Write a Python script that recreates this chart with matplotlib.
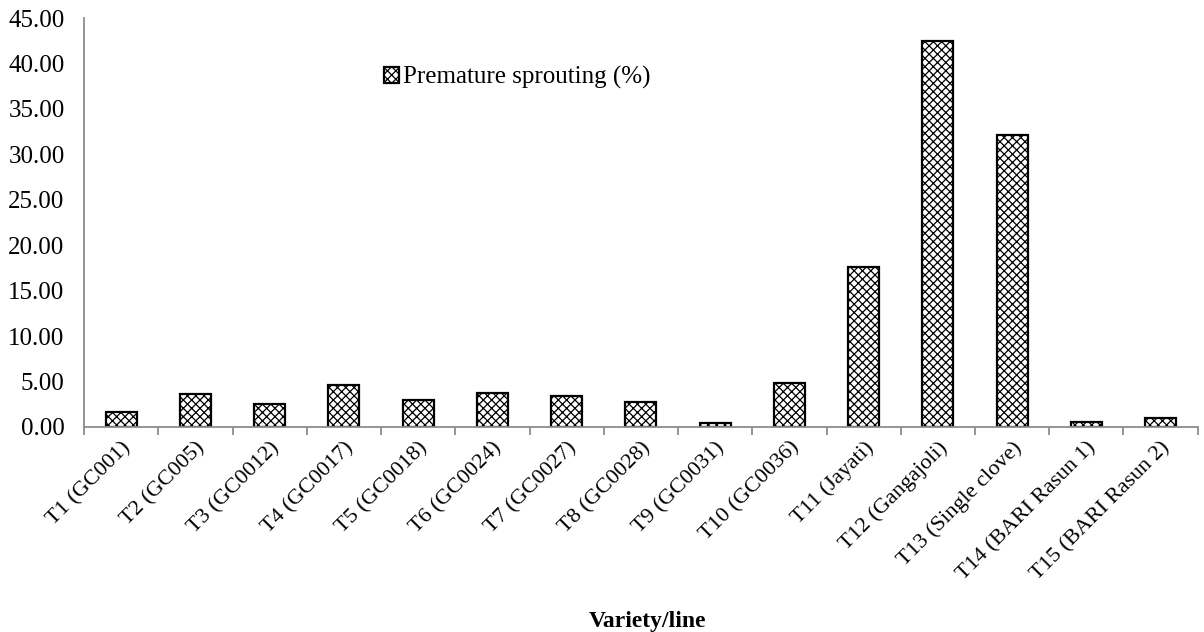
import matplotlib
matplotlib.use("Agg")
import matplotlib.pyplot as plt
import numpy as np

# data
varieties = [
    "T1 (GC001)", "T2 (GC005)", "T3 (GC0012)", "T4 (GC0017)", "T5 (GC0018)",
    "T6 (GC0024)", "T7 (GC0027)", "T8 (GC0028)", "T9 (GC0031)", "T10 (GC0036)",
    "T11 (Jayati)", "T12 (Gangajoli)", "T13 (Single clove)", "T14 (BARI Rasun 1)",
    "T15 (BARI Rasun 2)",
]
sprouting = [1.65, 3.63, 2.50, 4.66, 2.93, 3.78, 3.45, 2.71, 0.44, 4.87,
             17.63, 42.50, 32.10, 0.55, 1.02]
yticks = [0, 5, 10, 15, 20, 25, 30, 35, 40, 45]

plt.rcParams.update({
    "font.family": ["Liberation Serif", "DejaVu Serif"],
    "hatch.color": "#4a4a4a",
    "hatch.linewidth": 0.9,
})

fig = plt.figure(figsize=(12.04, 6.32), dpi=100)
ax = fig.add_axes([0.0698, 0.3244, 0.925, 0.6471])

x = np.arange(len(varieties))
ax.bar(x, sprouting, width=0.42, color="white", edgecolor="black",
       linewidth=1.6, hatch="xxxx", label="Premature sprouting (%)", zorder=2)

ax.set_xlim(-0.5, len(varieties) - 0.5)
ax.set_ylim(0, 45)
ax.set_yticks(yticks, [f"{v:.2f}" for v in yticks])
ax.tick_params(axis="y", length=0, pad=14, labelsize=18)

ax.set_xticks(x, varieties, rotation=45, ha="right", rotation_mode="anchor")
ax.tick_params(axis="x", which="major", length=0, pad=8, labelsize=16)
ax.set_xticks(np.arange(-0.5, len(varieties)), minor=True)
ax.tick_params(axis="x", which="minor", length=6, width=1.3, color="#8c8c8c")

for s in ("top", "right"):
    ax.spines[s].set_visible(False)
for s in ("left", "bottom"):
    ax.spines[s].set_color("#8c8c8c")
    ax.spines[s].set_linewidth(1.3)

ax.set_xlabel("Variety/line", fontsize=17, fontweight="bold")
ax.xaxis.set_label_coords(0.506, -0.45)

fig.legend(loc="center left", bbox_to_anchor=(0.319, 0.877), frameon=False,
           fontsize=18, handlelength=0.6, handleheight=0.6, handletextpad=0.15,
           borderpad=0, borderaxespad=0)

fig.savefig("out.png", dpi=100)
